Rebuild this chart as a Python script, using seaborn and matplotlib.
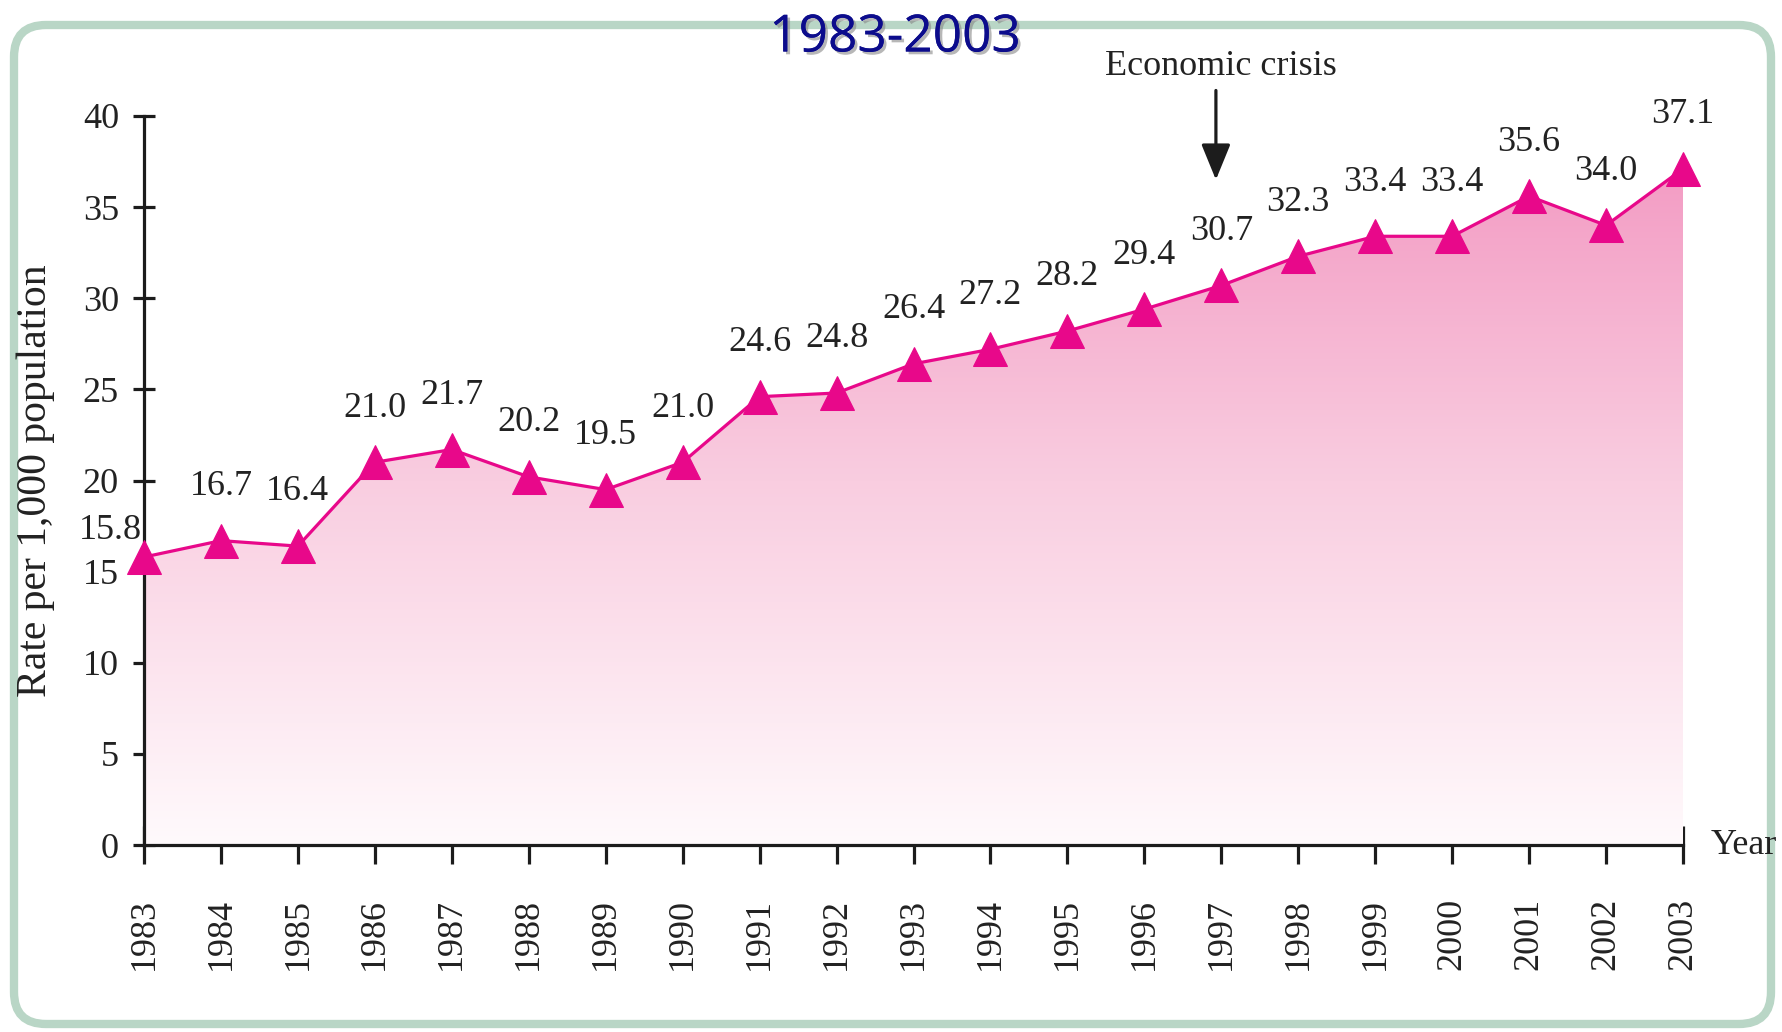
import numpy as np
import matplotlib
matplotlib.use("Agg")
import matplotlib.pyplot as plt
import matplotlib.patheffects as pe
from matplotlib.colors import LinearSegmentedColormap
from matplotlib.patches import FancyBboxPatch
from matplotlib.transforms import IdentityTransform
import seaborn as sns
import pandas as pd

# data
years = list(range(1983, 2004))
rates = [15.8, 16.7, 16.4, 21.0, 21.7, 20.2, 19.5, 21.0, 24.6, 24.8, 26.4,
         27.2, 28.2, 29.4, 30.7, 32.3, 33.4, 33.4, 35.6, 34.0, 37.1]
y_ticks = [0, 5, 10, 15, 20, 25, 30, 35, 40]
title = "1983-2003"
crisis_year = 1997

df = pd.DataFrame({"year": years, "rate": rates})

sns.set_style("ticks")
plt.rcParams["font.family"] = ["Liberation Serif", "DejaVu Serif"]

PINK = "#e8088a"
INK = "#1c1c1c"
FS = 26

fig = plt.figure(figsize=(17.83, 10.32), dpi=100)
fig.patch.set_facecolor("white")

# rounded green frame, drawn in pixel space, kept behind the axes
frame = FancyBboxPatch((14, 8), 1757, 999, boxstyle="round,pad=0,rounding_size=32",
                       transform=IdentityTransform(), facecolor="none",
                       edgecolor="#b9d6c6", linewidth=6, zorder=-5)
fig.patches.append(frame)

ax = fig.add_axes([144 / 1783, 1 - 845 / 1032, (1683 - 144) / 1783, (845 - 116) / 1032])
ax.set_facecolor("none")
ax.set_zorder(2)

# gradient area under the line
poly = ax.fill_between(years, rates, 0, facecolor="none", edgecolor="none")
cmap = LinearSegmentedColormap.from_list("pk", ["#fffafc", "#f9cde0", "#f294bf"])
grad = np.linspace(0, 1, 256).reshape(-1, 1)
im = ax.imshow(grad, cmap=cmap, origin="lower", aspect="auto",
               extent=[years[0], years[-1], 0, 40], zorder=1)
im.set_clip_path(poly.get_paths()[0], transform=ax.transData)

sns.lineplot(data=df, x="year", y="rate", ax=ax, color=PINK, lw=2.3,
             marker="^", markersize=24, markeredgecolor=PINK, zorder=3)
for ln in ax.lines:
    ln.set_clip_on(False)

ax.set_xlim(years[0], years[-1])
ax.set_ylim(0, 40)
ax.set_xticks(years)
ax.set_xticklabels([str(y) for y in years], rotation=90)
ax.set_yticks(y_ticks)

for s in ["top", "right"]:
    ax.spines[s].set_visible(False)
for s in ["left", "bottom"]:
    ax.spines[s].set_linewidth(2.3)
    ax.spines[s].set_color(INK)

ax.tick_params(axis="x", direction="inout", length=28, width=2.3, color=INK,
               labelsize=FS, labelcolor="#222222", pad=24)
ax.tick_params(axis="y", direction="inout", length=16, width=2.3, color=INK,
               labelsize=FS, labelcolor="#222222", pad=10)

ax.set_xlabel("")
ax.set_ylabel("Rate per 1,000 population", fontsize=30, color="#222222")
ax.yaxis.set_label_coords(-0.058, 0.5)

# value labels
for x, v in zip(years, rates):
    off = (-24, 19) if x == years[0] else (0, 39)
    ax.annotate(f"{v:.1f}", (x, v), xytext=off, textcoords="offset points",
                ha="center", va="center", fontsize=FS, color="#222222",
                annotation_clip=False, zorder=4)

# crisis arrow
ax.annotate("", xy=(crisis_year - 0.07, 36.5), xytext=(crisis_year - 0.07, 41.4),
            arrowprops=dict(arrowstyle="-|>,head_length=22,head_width=9",
                            mutation_scale=1, lw=2.3, color=INK,
                            shrinkA=0, shrinkB=0),
            annotation_clip=False)
ax.text(crisis_year, 42.7, "Economic crisis", ha="center", va="center",
        fontsize=FS, color="#222222", clip_on=False)

ax.text(years[-1] + 0.36, 0, "Year", ha="left", va="center", fontsize=FS,
        color="#222222", clip_on=False)

fig.text(895 / 1783, 1 - 38 / 1032, title, ha="center", va="center",
         fontsize=37, color="#0c0c8c", family=["Open Sans", "DejaVu Sans"],
         path_effects=[pe.withSimplePatchShadow(offset=(2, -2), shadow_rgbFace="#888888",
                                                alpha=0.6), pe.Normal()])

fig.savefig("out.png", dpi=100)
